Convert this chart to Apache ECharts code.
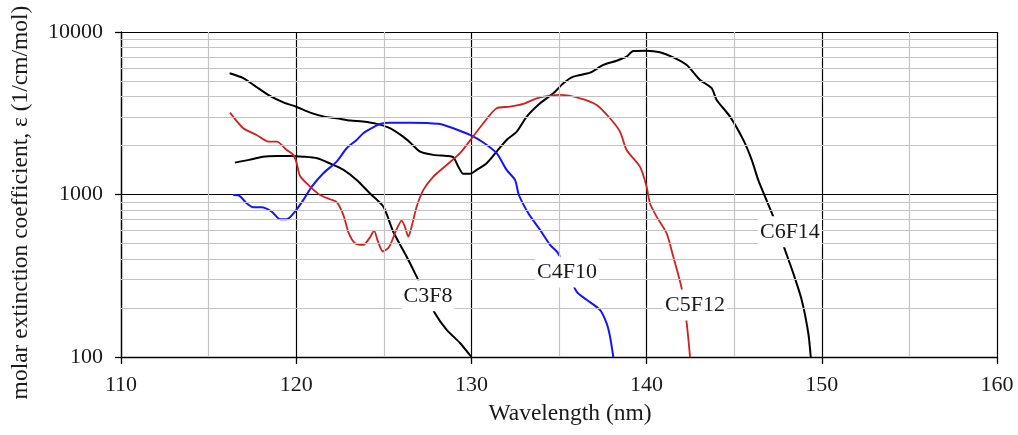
<!DOCTYPE html>
<html>
<head>
<meta charset="utf-8">
<script src="https://cdn.jsdelivr.net/npm/echarts@6/dist/echarts.min.js"></script>
<style>html,body{margin:0;padding:0;background:#fff;}#c{width:1018px;height:435px;}</style>
</head>
<body>
<div id="c"></div>
<script>
// ---- data ----
const c6f14Wl = [116.2,117.0,117.7,118.5,119.3,120.0,120.8,121.6,122.3,123.1,123.8,124.6,125.35,126.1,126.5,127.07,127.83,128.59,128.97,129.25,129.54,129.92,130.3,130.87,131.44,132.01,132.59,133.16,133.92,134.68,135.25,135.82,136.77,137.53,138.29,138.86,139.24,140.0,140.76,141.52,142.29,143.05,143.71,144.0,144.76,145.52,146.0,146.37,146.76,147.23,147.9,148.37,148.85,149.23,149.37];
const c6f14Val = [5570,5190,4610,4040,3675,3470,3190,3015,2945,2850,2810,2720,2560,2270,2090,1836,1753,1727,1696,1485,1340,1340,1417,1557,1836,2167,2438,3015,3644,4198,4836,5310,5620,6270,6660,7050,7640,7670,7500,6980,6270,5068,4510,3818,3015,2167,1633,1230,970,731,456,328,225,140,100];

const c3f8Wl = [116.5,117.3,118.1,118.9,119.65,120.4,121.2,121.9,122.7,123.45,124.2,124.97,125.54,126.3,126.97,127.92,128.59,129.35,130.0];
const c3f8Val = [1571,1633,1710,1727,1727,1710,1671,1557,1417,1230,1019,843,590,415,298,186,147,122,100];

const c4f10Wl = [116.4,116.7,117.17,117.55,118.03,118.6,119.08,119.46,119.93,120.41,120.89,121.55,122.31,122.88,123.45,123.83,124.31,124.78,125.35,126.5,127.5,128.2,128.97,129.92,130.68,131.44,132.01,132.49,132.7,133.25,133.92,134.49,134.94,136.0,136.58,137.34,137.72,137.91,138.1];
const c4f10Val = [994,990,884,835,835,785,705,705,785,926,1119,1352,1594,1926,2167,2382,2558,2717,2768,2768,2750,2717,2558,2326,2090,1795,1417,1230,1000,767,606,490,437,253,225,195,161,134,100];

const c5f12Wl = [116.22,116.98,117.74,118.41,118.89,119.46,119.84,120.03,120.22,120.79,121.36,121.93,122.3,122.69,123.0,123.36,123.83,124.21,124.45,124.65,124.95,125.3,125.7,126.02,126.21,126.4,126.59,126.88,127.26,127.83,128.59,129.35,130.02,130.68,131.44,132.2,132.96,133.73,134.49,135.06,136.2,137.15,137.91,138.48,138.86,139.62,140.0,140.19,140.57,141.14,141.52,142.0,142.29,142.48];
const c5f12Val = [3190,2558,2326,2114,2114,1880,1753,1557,1300,1119,994,935,900,750,578,501,490,545,600,520,446,475,600,690,630,551,635,843,1067,1288,1520,1795,2219,2745,3396,3470,3606,3908,4060,4098,3908,3556,2945,2438,1880,1483,1119,884,731,578,415,265,161,100];

const xMinorTicks = [115,125,135,145,155];
const yMinorTicks = [200,300,400,500,600,700,800,900,2000,3000,4000,5000,6000,7000,8000,9000];

const seriesNames = ['C6F14','C3F8','C4F10','C5F12'];
const labelAnchors = { C6F14:[148.18,589], C3F8:[127.52,238], C4F10:[135.46,334], C5F12:[142.76,209] };

// ---- chart ----
const FONT = 'Liberation Serif';
const TXT = '#1a1a1a';
function pairs(xs, ys){ return xs.map((x,i)=>[x, ys[i]]); }
function curve(name, xs, ys, color, width){
  return {
    type:'line', name, data: pairs(xs, ys), showSymbol:false, symbol:'none',
    smooth:0.25, z:3,
    lineStyle:{color, width},
    markPoint:{
      symbol:'rect', symbolSize:1, itemStyle:{color:'rgba(0,0,0,0)'},
      silent:true, animation:false,
      label:{show:true, position:'inside', formatter:name, color:TXT,
             fontFamily:FONT, fontSize:22, backgroundColor:'#fff', padding:[5,2,4,2]},
      data:[{coord: labelAnchors[name], name}]
    }
  };
}

const chart = echarts.init(document.getElementById('c'), null, {renderer:'canvas'});
chart.setOption({
  animation:false,
  backgroundColor:'#fff',
  grid:{left:121, top:32, right:21, bottom:78, containLabel:false},
  xAxis:{
    type:'value', min:110, max:160, interval:10,
    name:'Wavelength (nm)', nameLocation:'middle', nameGap:45,
    nameTextStyle:{fontFamily:FONT, fontSize:23.5, color:TXT, padding:[0,0,0,22]},
    axisLine:{show:true, onZero:false, lineStyle:{color:'#000', width:1.3}},
    axisTick:{show:true, length:7, lineStyle:{color:'#000', width:1.3}},
    axisLabel:{fontFamily:FONT, fontSize:22, color:TXT, margin:17},
    splitLine:{show:true, lineStyle:{color:'#000', width:1.2}}
  },
  yAxis:{
    type:'log', logBase:10, min:100, max:10000,
    name:'molar extinction coefficient, \u03b5 (1/cm/mol)', nameLocation:'middle', nameGap:88,
    nameTextStyle:{fontFamily:FONT, fontSize:23.5, color:TXT, padding:[0,16,0,0]},
    axisLine:{show:true, lineStyle:{color:'#000', width:1.3}},
    axisTick:{show:true, length:6, lineStyle:{color:'#000', width:1.3}},
    axisLabel:{fontFamily:FONT, fontSize:22, color:TXT, margin:18,
               formatter:v=>String(Math.round(v))},
    splitLine:{show:true, lineStyle:{color:'#000', width:1.2}}
  },
  series:[
    {
      type:'line', name:'grid', data:[], z:1, silent:true,
      markLine:{
        silent:true, animation:false, symbol:['none','none'],
        label:{show:false},
        lineStyle:{color:'#c4c4c4', width:1.2, type:'solid'},
        data: yMinorTicks.map(v=>({yAxis:v})).concat(xMinorTicks.map(v=>({xAxis:v})))
      }
    },
    curve('C6F14', c6f14Wl, c6f14Val, '#000000', 2),
    curve('C3F8', c3f8Wl, c3f8Val, '#000000', 2),
    curve('C4F10', c4f10Wl, c4f10Val, '#1414ff', 2),
    curve('C5F12', c5f12Wl, c5f12Val, '#d02020', 1.8)
  ]
});
</script>
</body>
</html>
